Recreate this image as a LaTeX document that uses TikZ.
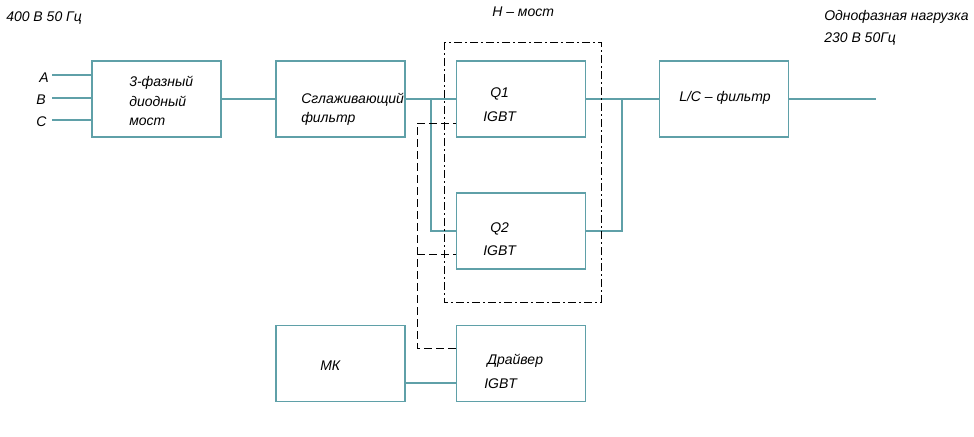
\documentclass[tikz,border=0pt]{standalone}
\usepackage{fontspec}
\setmainfont{Liberation Sans}
\usetikzlibrary{calc}
\definecolor{teal1}{RGB}{95,160,168}
\begin{document}
\begin{tikzpicture}[x=0.75pt,y=-0.75pt,
  blk/.style={draw=teal1,line width=1.2pt,minimum width=97pt,minimum height=57pt,inner sep=0pt},
  wire/.style={draw=teal1,line width=1.1pt},
  ctrl/.style={draw=black,line width=0.7pt,dash pattern=on 6pt off 3pt},
  hbr/.style={draw=black,line width=0.7pt,dash pattern=on 6pt off 2.5pt on 1pt off 2.5pt},
  lbl/.style={anchor=base west,inner sep=0pt,font=\fontsize{10.5}{13}\selectfont\itshape}]
\useasboundingbox (0,0) rectangle (974,436);
% blocks
\node[blk] (br)  at (156.5,99) {};
\node[blk] (sf)  at (340.5,99) {};
\node[blk] (q1)  at (521,99) {};
\node[blk] (lc)  at (724,99) {};
\node[blk] (q2)  at (521,231) {};
\node[blk] (mk)  at (340.5,363.5) {};
\node[blk] (drv) at (521,363.5) {};
% texts
\node[lbl] (t0) at (6,21) {400 В 50 Гц};
\node[lbl] (t1) at (492,16) {H – мост};
\node[lbl] (t2) at (824,20) {Однофазная нагрузка};
\node[lbl] (t3) at (824,42) {230 В 50Гц};
\node[lbl] (ta) at (39,82) {A};
\node[lbl] (tb) at (36,104) {B};
\node[lbl] (tc) at (36,126) {C};
\node[lbl] (b1) at (129,86) {3-фазный};
\node[lbl] (b2) at (129,106) {диодный};
\node[lbl] (b3) at (129,125) {мост};
\node[lbl] (s1) at (301,103) {Сглаживающий};
\node[lbl] (s2) at (301,122) {фильтр};
\node[lbl] (q1a) at (490,97) {Q1};
\node[lbl] (q1b) at (483,121) {IGBT};
\node[lbl] (q2a) at (490,232) {Q2};
\node[lbl] (q2b) at (483,255) {IGBT};
\node[lbl] (mkt) at (320,370) {МК};
\node[lbl] (d1) at (487,364) {Драйвер};
\node[lbl] (d2) at (484,388) {IGBT};
\node[lbl] (lct) at (679,101) {L/C – фильтр};
% inputs
\coordinate (ia) at (52,75);
\coordinate (ib) at (52,98);
\coordinate (ic) at (52,120);
\draw[wire] (ia) -- (ia -| br.west);
\draw[wire] (ib) -- (ib -| br.west);
\draw[wire] (ic) -- (ic -| br.west);
% power path
\draw[wire] (br.east) -- (sf.west);
\draw[wire] (sf.east) -- (q1.west);
\coordinate (jl) at (431,99);
\draw[wire] (jl) |- (q2.west);
\draw[wire] (q1.east) -- (lc.west);
\coordinate (jr) at (622,99);
\draw[wire] (jr) |- (q2.east);
\coordinate (out) at (876,99);
\draw[wire] (lc.east) -- (out);
\draw[wire] ($(mk.east)+(0,19.5)$) -- ($(drv.west)+(0,19.5)$);
% control
\coordinate (cv) at (417,123);
\draw[ctrl] ($(drv.west)+(0,-15.5)$) -| (cv) -- (cv -| q1.west);
\coordinate (cq2) at (417,254);
\draw[ctrl] (cq2) -- (cq2 -| q2.west);
% H-bridge frame
\draw[hbr] (444,42) rectangle (601,302);
\end{tikzpicture}
\end{document}
